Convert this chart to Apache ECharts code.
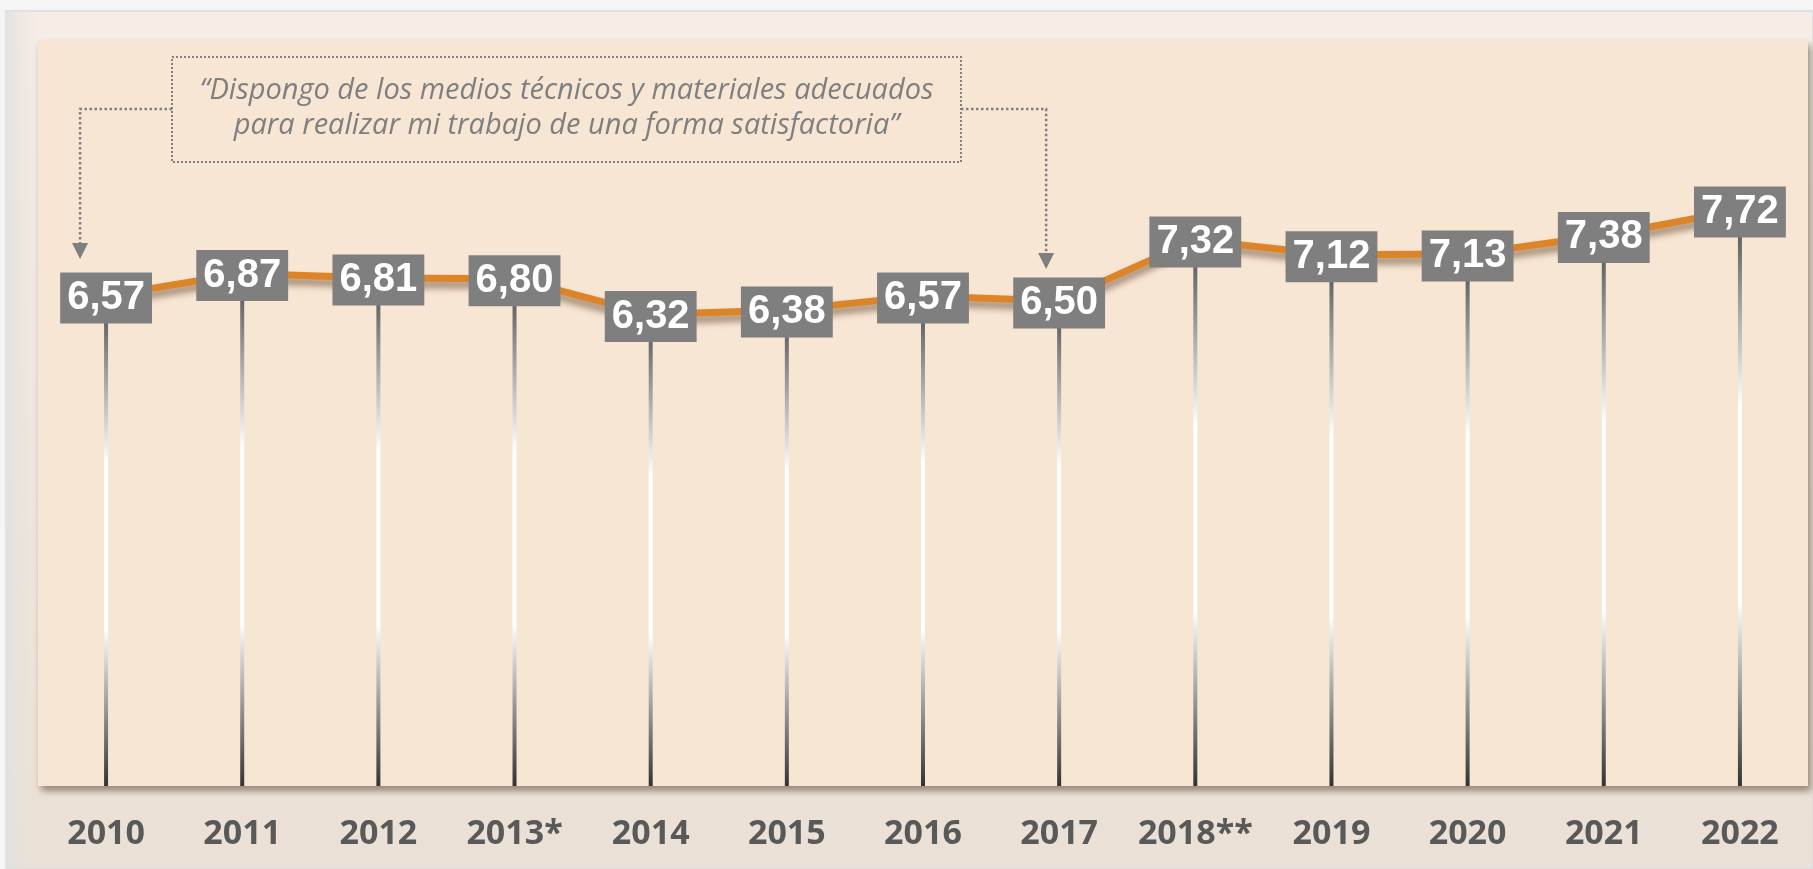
<!DOCTYPE html>
<html><head><meta charset="utf-8">
<script src="https://cdn.jsdelivr.net/npm/echarts@6/dist/echarts.min.js"></script>
<style>html,body{margin:0;padding:0;background:#F5F5F5;}#c{width:1813px;height:869px;}</style>
</head><body><div id="c"></div>
<script>
const categories = ['2010','2011','2012','2013*','2014','2015','2016','2017','2018**','2019','2020','2021','2022'];
const values = [6.57, 6.87, 6.81, 6.80, 6.32, 6.38, 6.57, 6.50, 7.32, 7.12, 7.13, 7.38, 7.72];
const quoteLines = ['“Dispongo de los medios técnicos y materiales adecuados', 'para realizar mi trabajo de una forma satisfactoria”'];
const arrowTargets = [0, 7];

const chart = echarts.init(document.getElementById('c'), null, {renderer:'canvas'});
const fmt = v => v.toFixed(2).replace('.', ',');

const option = {
  animation: false,
  backgroundColor: '#F5F5F5',
  grid: {left: 38, right: 5, top: 40, bottom: 83, show: true, backgroundColor: '#F8E6D5', borderWidth: 0,
    shadowColor: 'rgba(80,60,40,0.55)', shadowBlur: 7, shadowOffsetX: 3, shadowOffsetY: 5},
  xAxis: {type: 'category', data: categories, boundaryGap: true,
    axisLine: {show: false}, axisTick: {show: false}, splitLine: {show: false},
    axisLabel: {interval: 0, color: '#595959', fontFamily: 'Open Sans', fontWeight: 'bold', fontSize: 34, margin: 31}},
  yAxis: {type: 'value', min: 0, max: 10, show: false, splitLine: {show: false}},
  series: [
    {type: 'bar', data: values, barWidth: 4, z: 1, silent: true,
      itemStyle: {color: new echarts.graphic.LinearGradient(0,0,0,1,[
        {offset: 0, color: '#4a4a4a'}, {offset: 0.34, color: '#ffffff'}, {offset: 0.68, color: '#ffffff'}, {offset: 1, color: '#333333'}])}},
    {type: 'line', data: values, z: 3, symbol: 'rect', symbolSize: 2, showSymbol: true,
      itemStyle: {color: '#7F7F7F'},
      lineStyle: {color: '#DD8428', width: 7, shadowColor: 'rgba(90,60,30,0.6)', shadowBlur: 7, shadowOffsetY: 6},
      label: {show: true, position: 'inside', offset: [0, 2], formatter: p => fmt(p.value), color: '#ffffff',
        fontFamily: 'Liberation Sans', fontWeight: 'bold', fontSize: 40, lineHeight: 42,
        backgroundColor: '#7F7F7F', padding: [5, 7, 4, 7]}}
  ]
};
chart.setOption(option);

const boxL = 172, boxT = 57, boxR = 961, boxB = 162, midY = 109;
const qFont = 'italic 29px "Open Sans"';
const gr = [
  {type: 'rect', z: -10, shape: {x: 6, y: 11, width: 1807, height: 858},
    style: {fill: new echarts.graphic.LinearGradient(0,0,0,1,[{offset:0,color:'#F6EEE6'},{offset:1,color:'#EAE0D5'}]), stroke: '#DADADA', lineWidth: 1.5}},
  {type: 'rect', z: -9, shape: {x: 6, y: 11, width: 32, height: 858},
    style: {fill: new echarts.graphic.LinearGradient(0,0,1,0,[{offset:0,color:'rgba(225,225,225,0.9)'},{offset:1,color:'rgba(235,226,216,0)'}])}},
  {type: 'rect', z: 50, shape: {x: boxL, y: boxT, width: boxR - boxL, height: boxB - boxT},
    style: {fill: 'transparent', stroke: '#808080', lineWidth: 2, lineDash: [2, 2]}},
  {type: 'text', z: 50, x: (boxL + boxR) / 2, y: 91, style: {text: quoteLines[0], fill: '#7F7F7F', font: qFont, align: 'center', verticalAlign: 'middle'}},
  {type: 'text', z: 50, x: (boxL + boxR) / 2, y: 126, style: {text: quoteLines[1], fill: '#7F7F7F', font: qFont, align: 'center', verticalAlign: 'middle'}}
];
const offs = [{dx: -26, tip: -37, side: 'L'}, {dx: -13, tip: -32, side: 'R'}];
arrowTargets.forEach((idx, k) => {
  const p = chart.convertToPixel({gridIndex: 0}, [idx, values[idx]]);
  const ax = p[0] + offs[k].dx, tipY = p[1] + offs[k].tip;
  const sx = offs[k].side === 'L' ? boxL : boxR;
  gr.push({type: 'polyline', z: 50, shape: {points: [[sx, midY], [ax, midY], [ax, tipY - 15]]},
    style: {stroke: '#808080', lineWidth: 2.5, lineDash: [2.5, 2.5], fill: null}});
  gr.push({type: 'polygon', z: 50, shape: {points: [[ax - 8, tipY - 16], [ax + 8, tipY - 16], [ax, tipY]]}, style: {fill: '#7F7F7F'}});
});
chart.setOption({graphic: gr});
</script></body></html>
